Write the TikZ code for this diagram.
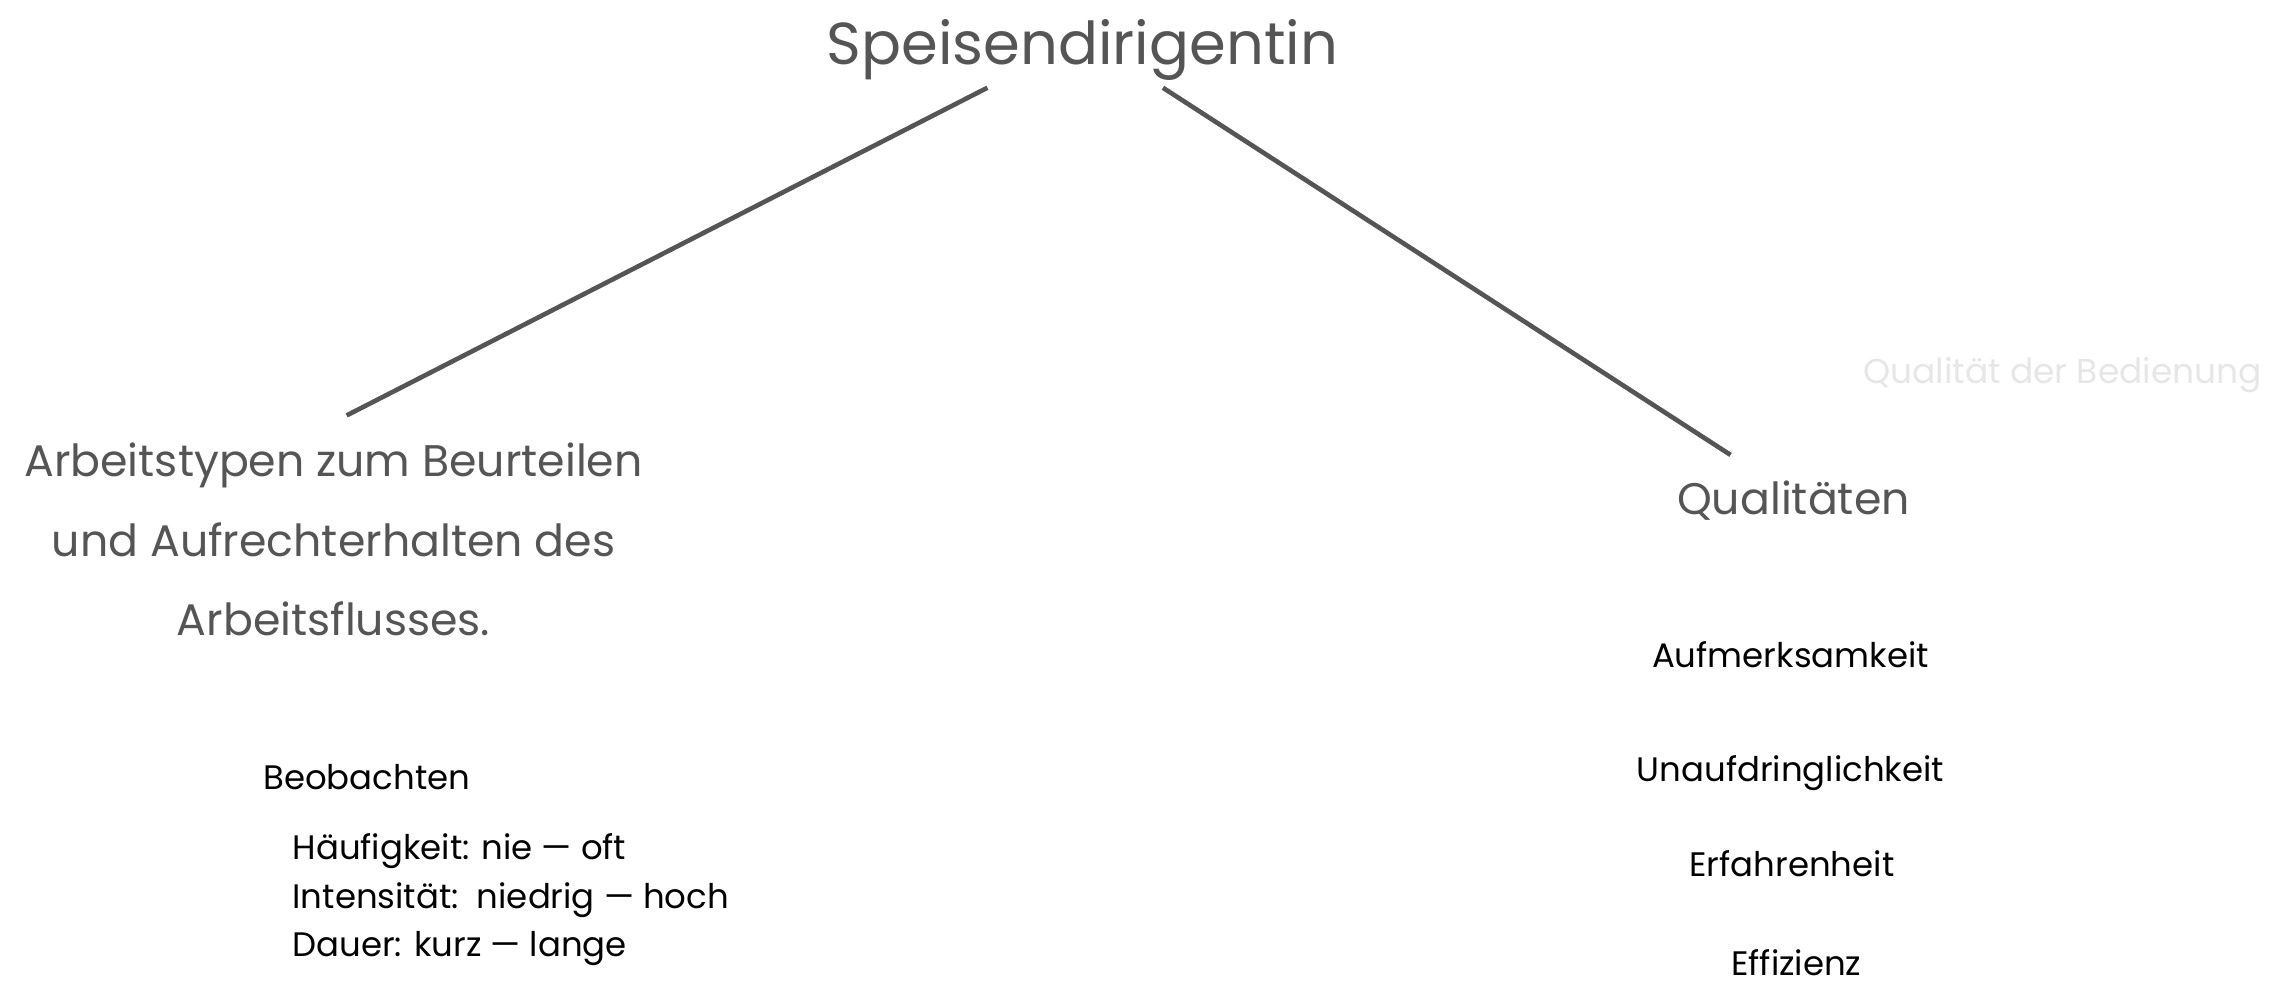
\documentclass[tikz,border=0pt]{standalone}
\usepackage{fontspec}
\setmainfont{Poppins}
\usetikzlibrary{calc}
\definecolor{ink}{HTML}{555555}
\definecolor{faint}{HTML}{E6E6E6}

\begin{document}
\begin{tikzpicture}[x=0.01cm,y=-0.01cm,every node/.style={inner sep=0pt,outer sep=0pt}]
      \tikzstyle{head}=[text=ink,font=\fontsize{11.5}{14}\selectfont]
      \tikzstyle{branch}=[text=ink,font=\fontsize{8.6}{15.4}\selectfont]
      \tikzstyle{ghost}=[text=faint,font=\fontsize{6.7}{8}\selectfont]
      \tikzstyle{item}=[text=black,font=\fontsize{6.6}{9.4}\selectfont]
      \tikzstyle{edge}=[draw=ink,line width=0.9pt]
      \useasboundingbox (0,0) rectangle (1560,671);

      \node (root) at (740,44) [head,anchor=base] {Speisendirigentin};

      \node (work) at (228,303) [branch,anchor=north,align=center] {Arbeitstypen zum Beurteilen\\und Aufrechterhalten des\\Arbeitsflusses.};
      \node (qual) at (1226,352) [branch,anchor=base] {Qualitäten};
      \node (service) at (1410,262) [ghost,anchor=base] {Qualität der Bedienung};

      \draw [edge] ($(root.base)+(-65,16)$) -- ($(work.north)+(9,-19)$);
      \draw [edge] ($(root.base)+(55,16)$) -- ($(qual.base)+(-43,-41)$);

      \node (watch) at (180,540) [item,anchor=base west] {Beobachten};
      \node (scales) at (200,570) [item,anchor=north west,align=left] {Häufigkeit: nie — oft\\Intensität:\ \ niedrig — hoch\\Dauer: kurz — lange};

      \node (attn) at (1224,456) [item,anchor=base] {Aufmerksamkeit};
      \node (disc) at (1224,534) [item,anchor=base] {Unaufdringlichkeit};
      \node (exp) at (1225,599) [item,anchor=base] {Erfahrenheit};
      \node (eff) at (1228,667) [item,anchor=base] {Effizienz};
    \end{tikzpicture}
\end{document}
